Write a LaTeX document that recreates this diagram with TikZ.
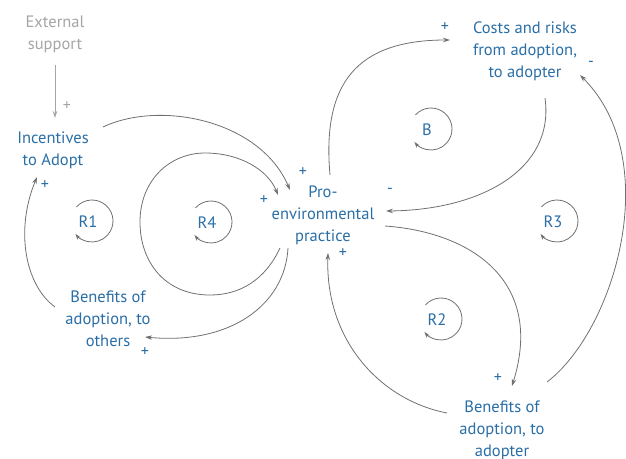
\documentclass[tikz,border=0pt]{standalone}
\usepackage{fontspec}
\setmainfont{PT Sans}
\usetikzlibrary{arrows.meta}
\definecolor{txtblue}{HTML}{2A6EA6}
\definecolor{lingray}{HTML}{707070}
\definecolor{extgray}{HTML}{A5A5A5}
\tikzset{
  lbl/.style={inner sep=0pt, align=center, text=txtblue, font=\fontsize{16.5}{22}\selectfont},
  sgn/.style={inner sep=0pt, text=txtblue, font=\fontsize{16}{16}\selectfont},
  link/.style={draw=lingray, line width=0.8pt, -{Stealth[length=7pt,width=4.5pt]}},
  loopname/.style={inner sep=0pt, text=txtblue, font=\fontsize{16.5}{18}\selectfont},
  looparc/.style={draw=lingray, line width=0.8pt, -{Stealth[length=6pt,width=4pt]}}
}
\begin{document}
\begin{tikzpicture}[x=1pt,y=1pt]
\useasboundingbox (0,0) rectangle (626,-458);
% text nodes
\node[lbl, text=extgray] (ext) at (55,-34) {External\\support};
\node[lbl] (inc) at (53,-150) {Incentives\\to Adopt};
\node[lbl] (pro) at (323,-215.5) {Pro-\\environmental\\practice};
\node[lbl] (cost) at (525,-51.5) {Costs and risks\\from adoption,\\to adopter};
\node[lbl] (bo) at (108,-318.5) {Benefits of\\adoption, to\\others};
\node[lbl] (ba) at (502,-430.5) {Benefits of\\adoption, to\\adopter};
% endpoint coordinates
\coordinate (extS) at (55,-65);
\coordinate (incN) at (55,-118);
\coordinate (incE) at (103,-127);
\coordinate (incS) at (37,-177);
\coordinate (proNW) at (290,-190);
\coordinate (proW) at (278,-195);
\coordinate (proSW1) at (280,-248);
\coordinate (proSW2) at (288,-248);
\coordinate (proN) at (330,-175);
\coordinate (proE) at (386,-211);
\coordinate (proE2) at (385,-226);
\coordinate (proS) at (328,-253);
\coordinate (costW) at (450,-40);
\coordinate (costS) at (545,-98);
\coordinate (costE) at (580,-75);
\coordinate (boW) at (55,-307);
\coordinate (boE) at (145,-337);
\coordinate (baN) at (512,-386);
\coordinate (baW) at (447,-413);
\coordinate (baE) at (547,-382);
% connectors
\draw[link, draw=extgray] (extS) -- (incN);
\draw[link] (incE) .. controls (160,-100) and (260,-120) .. (proNW);
\draw[link] (proSW1) .. controls (265,-280) and (240,-295) .. (210,-295)
   .. controls (165,-295) and (140,-262) .. (140,-222)
   .. controls (140,-180) and (170,-153) .. (205,-153)
   .. controls (240,-153) and (268,-170) .. (proW);
\draw[link] (boW) .. controls (25,-285) and (15,-230) .. (incS);
\draw[link] (proSW2) .. controls (285,-305) and (230,-345) .. (boE);
\draw[link] (proN) .. controls (322,-85) and (355,-40) .. (costW);
\draw[link] (costS) .. controls (555,-170) and (480,-210) .. (proE);
\draw[link] (proE2) .. controls (470,-232) and (545,-280) .. (baN);
\draw[link] (baW) .. controls (380,-400) and (325,-340) .. (proS);
\draw[link] (baE) .. controls (615,-330) and (665,-160) .. (costE);
% polarity signs
\node[sgn, text=extgray] (s1) at (67,-106) {+};
\node[sgn] (s2) at (45,-185) {+};
\node[sgn] (s3) at (303,-172) {+};
\node[sgn] (s4) at (264,-200) {+};
\node[sgn] (s5) at (145,-352) {+};
\node[sgn] (s6) at (445,-27) {+};
\node[sgn] (s7) at (591,-64) {-};
\node[sgn] (s8) at (390,-191) {-};
\node[sgn] (s9) at (343,-253) {+};
\node[sgn] (s10) at (498,-378) {+};
% loop markers
\node[loopname] (r1) at (88,-222) {R1};
\node[loopname] (r4) at (207,-223) {R4};
\node[loopname] (lb) at (427,-130) {B};
\node[loopname] (r3) at (553,-222) {R3};
\node[loopname] (r2) at (437,-320) {R2};
\foreach \n in {r1,r4,lb,r3,r2}{
  \draw[looparc] ([shift={(4,1)}]\n.center) ++(138:21) arc[start angle=138, end angle=-142, radius=21];
}
\end{tikzpicture}
\end{document}
